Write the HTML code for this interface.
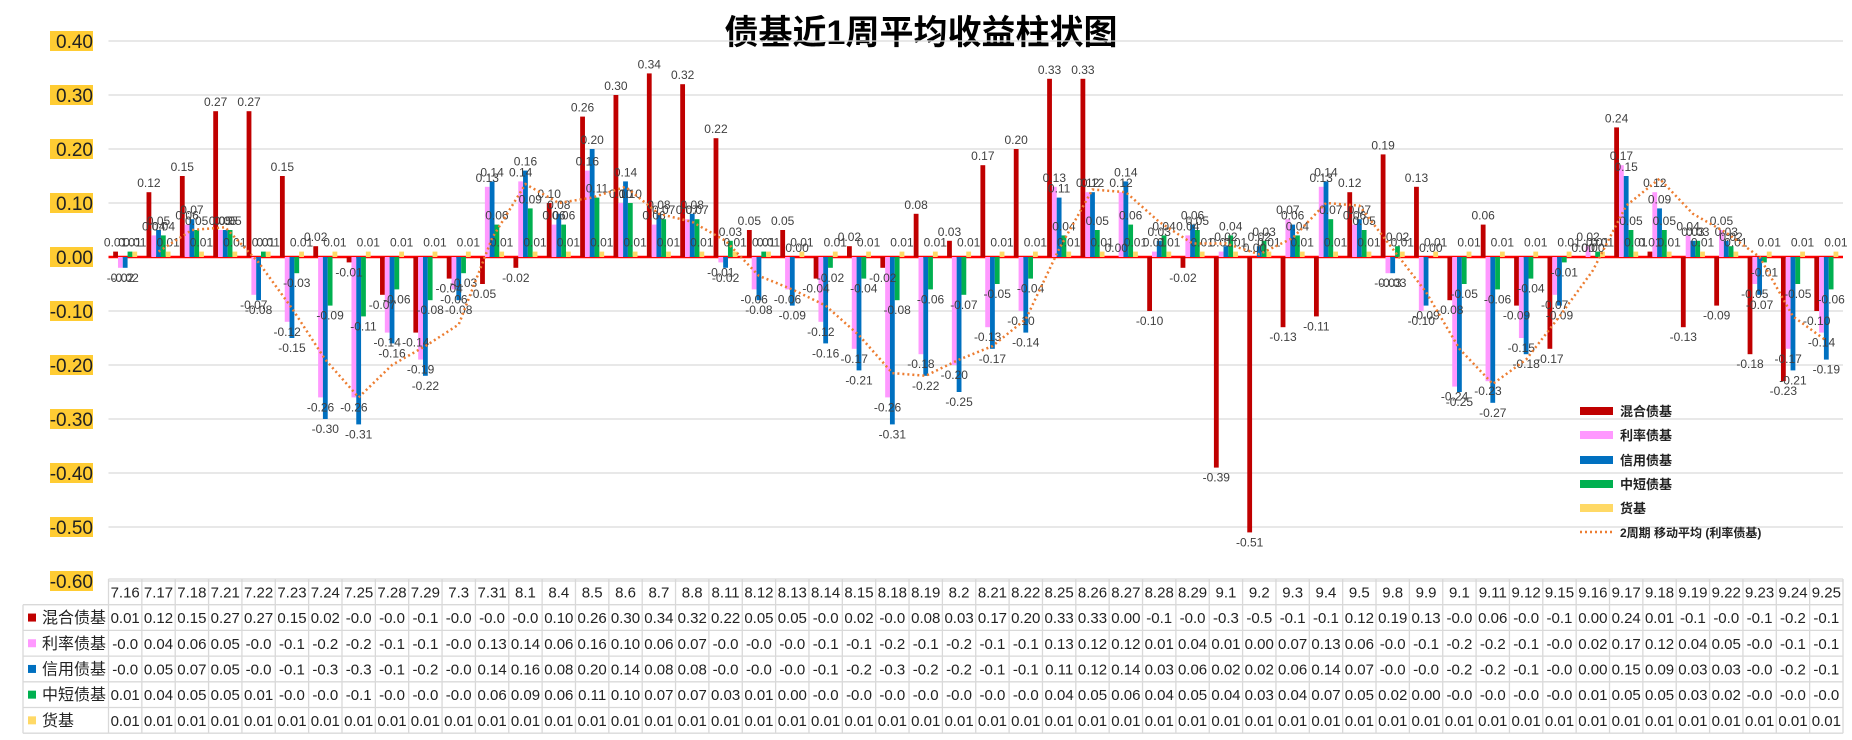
<!DOCTYPE html>
<html><head><meta charset="utf-8"><style>
html,body{margin:0;padding:0;background:#fff;}
svg{display:block;font-family:"Liberation Sans","Noto Sans CJK SC",sans-serif;}
</style></head><body>
<svg id="chart" width="1852" height="740" viewBox="0 0 1852 740" xmlns="http://www.w3.org/2000/svg">
<text x="921" y="44" text-anchor="middle" font-size="34" font-weight="bold" fill="#000" font-family="'Liberation Sans','Noto Sans CJK SC',sans-serif">债基近1周平均收益柱状图</text>
<g id="grid"></g><g id="bars"></g><g id="labels"></g><g id="ma"></g><g id="legend"></g><g id="table"></g>
</svg>
<script>
const categories=["7.16","7.17","7.18","7.21","7.22","7.23","7.24","7.25","7.28","7.29","7.3","7.31","8.1","8.4","8.5","8.6","8.7","8.8","8.11","8.12","8.13","8.14","8.15","8.18","8.19","8.2","8.21","8.22","8.25","8.26","8.27","8.28","8.29","9.1","9.2","9.3","9.4","9.5","9.8","9.9","9.1","9.11","9.12","9.15","9.16","9.17","9.18","9.19","9.22","9.23","9.24","9.25"];
const hunhe=[0.01,0.12,0.15,0.27,0.27,0.15,0.02,-0.01,-0.07,-0.14,-0.04,-0.05,-0.02,0.10,0.26,0.30,0.34,0.32,0.22,0.05,0.05,-0.04,0.02,-0.02,0.08,0.03,0.17,0.20,0.33,0.33,0.00,-0.10,-0.02,-0.39,-0.51,-0.13,-0.11,0.12,0.19,0.13,-0.08,0.06,-0.09,-0.17,0.00,0.24,0.01,-0.13,-0.09,-0.18,-0.23,-0.10];
const lilv=[-0.02,0.04,0.06,0.05,-0.07,-0.12,-0.26,-0.26,-0.14,-0.19,-0.06,0.13,0.14,0.06,0.16,0.10,0.06,0.07,-0.01,-0.06,-0.06,-0.12,-0.17,-0.26,-0.18,-0.20,-0.13,-0.10,0.13,0.12,0.12,0.01,0.04,0.01,0.00,0.07,0.13,0.06,-0.03,-0.10,-0.24,-0.23,-0.15,-0.07,0.02,0.17,0.12,0.04,0.05,-0.05,-0.17,-0.14];
const xinyong=[-0.02,0.05,0.07,0.05,-0.08,-0.15,-0.30,-0.31,-0.16,-0.22,-0.08,0.14,0.16,0.08,0.20,0.14,0.08,0.08,-0.02,-0.08,-0.09,-0.16,-0.21,-0.31,-0.22,-0.25,-0.17,-0.14,0.11,0.12,0.14,0.03,0.06,0.02,0.02,0.06,0.14,0.07,-0.03,-0.09,-0.25,-0.27,-0.18,-0.09,0.00,0.15,0.09,0.03,0.03,-0.07,-0.21,-0.19];
const zhongduan=[0.01,0.04,0.05,0.05,0.01,-0.03,-0.09,-0.11,-0.06,-0.08,-0.03,0.06,0.09,0.06,0.11,0.10,0.07,0.07,0.03,0.01,0.00,-0.02,-0.04,-0.08,-0.06,-0.07,-0.05,-0.04,0.04,0.05,0.06,0.04,0.05,0.04,0.03,0.04,0.07,0.05,0.02,0.00,-0.05,-0.06,-0.04,-0.01,0.01,0.05,0.05,0.03,0.02,-0.01,-0.05,-0.06];
const huoji=[0.01,0.01,0.01,0.01,0.01,0.01,0.01,0.01,0.01,0.01,0.01,0.01,0.01,0.01,0.01,0.01,0.01,0.01,0.01,0.01,0.01,0.01,0.01,0.01,0.01,0.01,0.01,0.01,0.01,0.01,0.01,0.01,0.01,0.01,0.01,0.01,0.01,0.01,0.01,0.01,0.01,0.01,0.01,0.01,0.01,0.01,0.01,0.01,0.01,0.01,0.01,0.01];
const seriesNames=["混合债基","利率债基","信用债基","中短债基","货基"];
const yTicks=[0.4,0.3,0.2,0.1,0,-0.1,-0.2,-0.3,-0.4,-0.5,-0.6];

const NS="http://www.w3.org/2000/svg";
const series=[hunhe,lilv,xinyong,zhongduan,huoji];
const colors=["#C00000","#FF99FF","#0070C0","#00B050","#FFD966"];
const slugs=["hunhe","lilv","xinyong","zhongduan","huoji"];
const X0=108.5,X1=1843,CW=(X1-X0)/categories.length,Y0=257,PU=540,BW=4.8;
const y=v=>Y0-v*PU;
const xc=i=>X0+CW*(i+0.5);
function mk(tag,attrs,parent,txt){const e=document.createElementNS(NS,tag);for(const k in attrs)e.setAttribute(k,attrs[k]);if(txt!==undefined)e.textContent=txt;parent.appendChild(e);return e;}
const G=id=>document.getElementById(id);
const fmt=v=>v.toFixed(2);
yTicks.forEach(t=>{
  const l=mk('line',{x1:X0,x2:X1,y1:y(t),y2:y(t),stroke:'#d9d9d9','stroke-width':1.3},G('grid'));
  
  
  const r=mk('rect',{x:50,y:y(t)-10,width:43,height:20,fill:'#FFCC33'},G('grid'));
  
  
  const tx=mk('text',{x:93,y:y(t)+7,'text-anchor':'end','font-size':19,fill:'#222'},G('grid'),t.toFixed(2));
  
  
});
series.forEach((s,k)=>{
  s.forEach((v,i)=>{
    const bx=xc(i)-2.5*BW+k*BW;
    const top=Math.min(y(v),Y0),h=Math.max(Math.abs(y(v)-Y0),0.01);
    const r=mk('rect',{x:bx,y:top,width:BW,height:h,fill:colors[k]},G('bars'));
    
    
    const ty=v>=0?y(v)-5:y(v)+14;
    const t=mk('text',{x:bx+BW/2,y:ty,'text-anchor':'middle','font-size':12,fill:'#404040'},G('labels'),fmt(v));
    
    
  });
});
const zl=mk('line',{x1:X0,x2:X1,y1:Y0,y2:Y0,stroke:'#FF0000','stroke-width':2.5},G('grid'));


let pts=[];
for(let i=1;i<lilv.length;i++){pts.push(xc(i)+','+y((lilv[i]+lilv[i-1])/2));}
const ma=mk('polyline',{points:pts.join(' '),fill:'none',stroke:'#ED7D31','stroke-width':2.5,'stroke-dasharray':'2 3'},G('ma'));


const legY=[411,435,460,484,508,532];
seriesNames.forEach((n,k)=>{
  const r=mk('rect',{x:1580,y:legY[k]-4,width:33,height:8,fill:colors[k]},G('legend'));
  
  
  const t=mk('text',{x:1620,y:legY[k]+5,'font-size':13,'font-weight':'bold',fill:'#222'},G('legend'),n);
  
  
});
const ml=mk('line',{x1:1580,x2:1613,y1:legY[5],y2:legY[5],stroke:'#ED7D31','stroke-width':2.5,'stroke-dasharray':'2 3'},G('legend'));


const mt=mk('text',{x:1620,y:legY[5]+5,'font-size':12,'font-weight':'bold',fill:'#222'},G('legend'),'2周期 移动平均 (利率债基)');


const TY=579,RH=25.7,TL=23;
const tb=G('table');
for(let r=0;r<=6;r++){
  const yy=TY+r*RH;
  const ln=mk('line',{x1:r===0?X0:TL,x2:X1,y1:yy,y2:yy,stroke:'#d9d9d9','stroke-width':1.3},tb);
  
  
}
for(let c=0;c<=categories.length;c++){
  const xx=X0+c*CW;
  const ln=mk('line',{x1:xx,x2:xx,y1:TY,y2:TY+6*RH,stroke:'#d9d9d9','stroke-width':1.3},tb);
  
  
}
const lb=mk('line',{x1:TL,x2:TL,y1:TY+RH,y2:TY+6*RH,stroke:'#d9d9d9','stroke-width':1.3},tb);


function cellTxt(v){if(v<0){const t=Math.trunc(v*10)/10;return '-'+Math.abs(t).toFixed(1);}return v.toFixed(2);}
categories.forEach((c,i)=>{
  const t=mk('text',{x:xc(i),y:TY+RH/2+5.5,'text-anchor':'middle','font-size':15,fill:'#222'},tb,c);
  
  
});
series.forEach((s,k)=>{
  const ry=TY+(k+1)*RH;
  const sw=mk('rect',{x:28,y:ry+RH/2-4,width:8,height:8,fill:colors[k]},tb);
  
  
  const nt=mk('text',{x:42,y:ry+RH/2+5.5,'font-size':16,fill:'#222'},tb,seriesNames[k]);
  
  
  s.forEach((v,i)=>{
    const t=mk('text',{x:xc(i),y:ry+RH/2+5.5,'text-anchor':'middle','font-size':15,fill:'#222'},tb,cellTxt(v));
    
    
  });
});
</script>
</body></html>
